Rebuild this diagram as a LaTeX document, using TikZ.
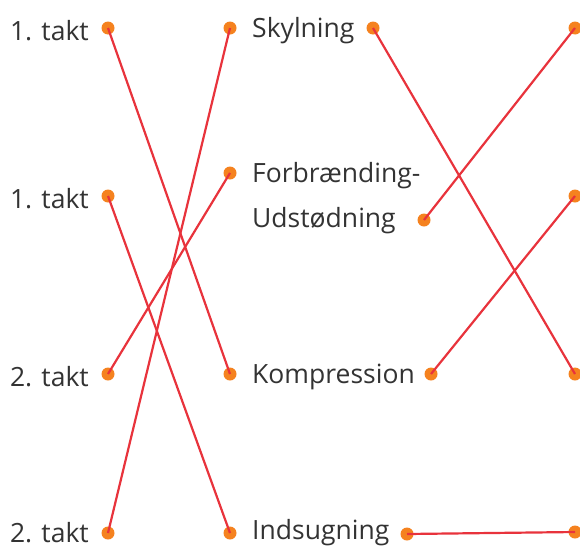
\documentclass[tikz,border=0pt]{standalone}
\usepackage{fontspec}
\setmainfont{Open Sans}
\definecolor{dotorange}{HTML}{F5821F}
\definecolor{linkred}{HTML}{E8333C}
\definecolor{txt}{HTML}{333333}
\begin{document}
\begin{tikzpicture}[x=1pt,y=-1pt,
  pt/.style={circle,fill=dotorange,inner sep=0pt,minimum size=13pt},
  lbl/.style={text=txt,font=\fontsize{26.5}{30}\selectfont,inner sep=0pt},
  link/.style={draw=linkred,line width=2.2pt}]
\useasboundingbox (0,0) rectangle (580,549);
% left labels
\node[lbl,anchor=east] (a1) at (89,31) {1. takt};
\node[lbl,anchor=east] (a2) at (89,199) {1. takt};
\node[lbl,anchor=east] (a3) at (89,377) {2. takt};
\node[lbl,anchor=east] (a4) at (89,533) {2. takt};
% middle labels
\node[lbl,anchor=west] (m1) at (252,31) {Skylning};
\node[lbl,anchor=west] (m2) at (252,176) {Forbrænding-};
\node[lbl,anchor=west] (m2b) at (252,221) {Udstødning};
\node[lbl,anchor=west] (m3) at (252,377) {Kompression};
\node[lbl,anchor=west] (m4) at (252,533) {Indsugning};
% dots
\node[pt] (l1) at (108,28) {};
\node[pt] (l2) at (108,196) {};
\node[pt] (l3) at (108,374) {};
\node[pt] (l4) at (108,533) {};
\node[pt] (c1) at (230,28) {};
\node[pt] (c2) at (230,173) {};
\node[pt] (c3) at (230,374) {};
\node[pt] (c4) at (230,533) {};
\node[pt] (d1) at (373,28) {};
\node[pt] (d2) at (424,220) {};
\node[pt] (d3) at (431,374) {};
\node[pt] (d4) at (407,534) {};
\node[pt] (r1) at (575,28) {};
\node[pt] (r2) at (575,196) {};
\node[pt] (r3) at (575,374) {};
\node[pt] (r4) at (575,532) {};
% connectors
\draw[link] (l1.center) -- (c3.center);
\draw[link] (l2.center) -- (c4.center);
\draw[link] (l3.center) -- (c2.center);
\draw[link] (l4.center) -- (c1.center);
\draw[link] (d1.center) -- (r3.center);
\draw[link] (d2.center) -- (r1.center);
\draw[link] (d3.center) -- (r2.center);
\draw[link] (d4.center) -- (r4.center);
\end{tikzpicture}
\end{document}
